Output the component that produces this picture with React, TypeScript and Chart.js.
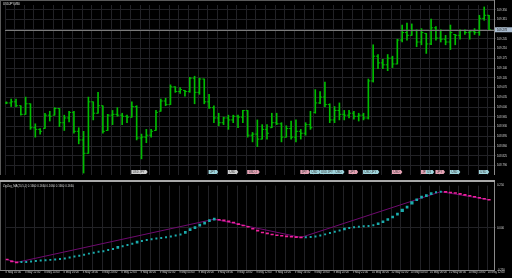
import React, { useEffect, useRef } from 'react';
import { Chart, registerables } from 'chart.js';

Chart.register(...registerables);

// ---------------- data ----------------
const symbolTitle = 'USDJPY,M30';
const indicatorTitle = 'ZigZag_MA(20,5,1) 0.1660 0.1660 0.1660 0.1660 0.1660';

const opens = [
  109.015, 109.015, 109.019, 109.005, 108.974, 109.012, 108.926, 108.920, 108.923, 108.971,
  108.971, 108.995, 108.944, 108.961, 108.981, 108.913, 108.882, 108.834, 109.019, 108.978,
  109.005, 108.916, 108.971, 108.974, 108.971, 108.967, 108.964, 109.002, 108.889, 108.892,
  108.899, 108.916, 108.985, 109.022, 109.009, 109.073, 109.056, 109.060, 109.056, 109.104,
  109.053, 109.101, 109.019, 108.998, 108.961, 108.944, 108.961, 108.954, 108.967, 108.964,
  108.988, 108.899, 108.903, 108.885, 108.920, 108.926, 108.944, 108.940, 108.892, 108.923,
  108.892, 108.913, 108.906, 108.937, 108.981, 109.015, 109.036, 109.009, 108.954, 108.988,
  108.974, 108.971, 108.978, 108.967, 108.971, 108.961, 109.094, 109.183, 109.159, 109.152,
  109.176, 109.155, 109.241, 109.268, 109.258, 109.275, 109.234, 109.265, 109.227, 109.285,
  109.248, 109.244, 109.234, 109.261, 109.258, 109.275, 109.268, 109.271, 109.268, 109.319,
  109.330,
];
const highs = [
  109.019, 109.029, 109.029, 109.005, 109.036, 109.012, 108.940, 108.923, 108.978, 108.985,
  108.998, 108.995, 108.971, 108.985, 108.985, 108.926, 108.913, 109.036, 109.019, 109.053,
  109.005, 108.974, 108.988, 108.998, 108.978, 108.971, 109.019, 109.005, 108.903, 108.920,
  108.920, 108.988, 109.029, 109.032, 109.080, 109.073, 109.070, 109.060, 109.107, 109.111,
  109.104, 109.101, 109.046, 109.005, 108.978, 108.964, 108.971, 108.971, 108.971, 108.988,
  108.988, 108.909, 108.954, 108.937, 108.937, 108.978, 108.978, 108.944, 108.933, 108.950,
  108.954, 108.920, 108.944, 108.985, 109.063, 109.056, 109.090, 109.012, 109.002, 109.015,
  108.988, 108.988, 108.985, 108.978, 108.978, 109.101, 109.224, 109.189, 109.172, 109.189,
  109.183, 109.244, 109.295, 109.302, 109.299, 109.278, 109.282, 109.265, 109.316, 109.289,
  109.278, 109.258, 109.295, 109.261, 109.278, 109.278, 109.275, 109.282, 109.330, 109.360,
  109.330,
];
const lows = [
  109.012, 109.002, 109.002, 108.971, 108.974, 108.920, 108.892, 108.903, 108.923, 108.950,
  108.971, 108.930, 108.916, 108.947, 108.906, 108.868, 108.763, 108.834, 108.954, 108.978,
  108.906, 108.916, 108.937, 108.967, 108.937, 108.944, 108.964, 108.882, 108.814, 108.872,
  108.892, 108.916, 108.985, 109.005, 109.009, 109.053, 109.049, 109.039, 109.053, 109.012,
  109.046, 109.012, 108.995, 108.944, 108.933, 108.937, 108.920, 108.944, 108.926, 108.944,
  108.892, 108.875, 108.858, 108.885, 108.885, 108.926, 108.937, 108.875, 108.892, 108.885,
  108.875, 108.885, 108.899, 108.920, 108.978, 109.012, 109.002, 108.944, 108.944, 108.954,
  108.954, 108.961, 108.957, 108.950, 108.954, 108.957, 109.090, 109.138, 109.138, 109.131,
  109.142, 109.155, 109.234, 109.241, 109.258, 109.217, 109.224, 109.193, 109.224, 109.241,
  109.234, 109.224, 109.207, 109.224, 109.244, 109.261, 109.244, 109.261, 109.258, 109.312,
  109.275,
];
const closes = [
  109.015, 109.019, 109.005, 108.974, 109.012, 108.926, 108.920, 108.913, 108.971, 108.967,
  108.995, 108.944, 108.961, 108.981, 108.913, 108.882, 108.834, 109.019, 108.978, 109.005,
  108.913, 108.971, 108.974, 108.971, 108.967, 108.964, 109.002, 108.889, 108.892, 108.899,
  108.913, 108.981, 109.022, 109.009, 109.073, 109.056, 109.063, 109.056, 109.104, 109.053,
  109.101, 109.019, 108.998, 108.961, 108.944, 108.961, 108.954, 108.967, 108.964, 108.988,
  108.899, 108.903, 108.885, 108.920, 108.906, 108.944, 108.940, 108.892, 108.923, 108.892,
  108.913, 108.906, 108.937, 108.926, 109.015, 109.036, 109.009, 108.954, 108.988, 108.974,
  108.971, 108.978, 108.967, 108.971, 108.961, 109.094, 109.183, 109.159, 109.152, 109.176,
  109.155, 109.241, 109.268, 109.258, 109.275, 109.234, 109.268, 109.227, 109.285, 109.248,
  109.244, 109.234, 109.268, 109.258, 109.275, 109.268, 109.271, 109.268, 109.319, 109.330,
  109.278,
];

const priceTicks = [
  108.79, 108.825, 108.86, 108.895, 108.93, 108.965, 109.0, 109.035, 109.07,
  109.105, 109.14, 109.175, 109.21, 109.245, 109.28, 109.315, 109.35,
];

const timeLabels = [
  '8 May 10:00', '8 May 12:00', '8 May 14:00', '8 May 16:00', '8 May 18:00', '8 May 20:00',
  '8 May 22:00', '9 May 00:00', '9 May 02:00', '9 May 04:00', '9 May 06:00', '9 May 08:00',
  '9 May 10:00', '9 May 12:00', '9 May 14:00', '9 May 16:00', '9 May 18:00', '9 May 20:00',
  '9 May 22:00', '10 May 00:00', '10 May 02:00', '10 May 04:00', '10 May 06:00', '10 May 08:00',
  '10 May 10:00', '10 May 12:00',
];

const maValues = [
  -0.188, -0.199, -0.205, -0.203, -0.202, -0.199, -0.197, -0.194, -0.192, -0.19,
  -0.188, -0.185, -0.182, -0.176, -0.17, -0.165, -0.159, -0.153, -0.148, -0.142,
  -0.139, -0.132, -0.126, -0.116, -0.109, -0.102, -0.094, -0.085, -0.078, -0.072,
  -0.068, -0.064, -0.06, -0.056, -0.051, -0.045, -0.04, -0.027, -0.011, 0.001,
  0.016, 0.028, 0.042, 0.051, 0.048, 0.044, 0.038, 0.031, 0.022, 0.014,
  0.006, -0.006, -0.017, -0.028, -0.033, -0.04, -0.044, -0.047, -0.051, -0.053,
  -0.055, -0.057, -0.056, -0.055, -0.051, -0.045, -0.039, -0.031, -0.024, -0.016,
  -0.007, -0.001, 0.003, 0.006, 0.009, 0.011, 0.015, 0.024, 0.036, 0.049,
  0.064, 0.081, 0.103, 0.122, 0.148, 0.166, 0.182, 0.191, 0.203, 0.21,
  0.214, 0.213, 0.209, 0.206, 0.201, 0.195, 0.19, 0.184, 0.178, 0.172,
  0.166,
];
const pivotBars = [1, 3, 44, 62, 91, 101];
const indicatorTicks = [-0.25, 0, 0.25];

const eventBars = [27, 43, 47, 51, 62, 64, 66, 69, 72, 75, 81, 87, 88, 90, 93, 99];
const eventKinds = ['w', 'c', 'w', 'p', 'p', 'c', 'c', 'c', 'p', 'c', 'p', 'p', 'c', 'p', 'c', 'c'];
const eventTexts = ['USD JPY', 'JPY', 'USD', 'USD J', 'JPY', 'USD', 'USD JPY', 'USD', 'JPY', 'USD JPY', 'USD', 'JP', 'US', 'JPY', 'USD', 'USD'];

// ---------------- style ----------------
const FONT = '"Liberation Sans", "DejaVu Sans", sans-serif';
const FS = 2.8;
const GREEN = '#00bc00';
const GRID = '#222226';
const TEXT = '#d4d4d4';
const CYAN = '#1aacac';
const MAGENTA = '#f0209c';
const PURPLE = '#700a70';
const X_MIN = 0.72;
const X_MAX = 102.03;
const GRID_SHIFT = 0.28;
const TICK_OFF = 0.2;
const TAG_COLORS: Record<string, string> = { w: '#cfcfcf', c: '#9fd4dc', p: '#e4a2b4' };

function xGridTicks() {
  const t: { value: number }[] = [];
  for (let b = 1; b <= closes.length; b += 2) t.push({ value: b - GRID_SHIFT });
  return t;
}

const rising = (i: number) => i > 0 && maValues[i] > maValues[i - 1];

const mainPlugin = {
  id: 'mainPanel',
  afterDraw(chart: any) {
    const { ctx, chartArea: a, scales } = chart;
    ctx.save();
    ctx.lineWidth = 1;
    ctx.strokeStyle = '#5a5a5a';
    ctx.beginPath();
    ctx.moveTo(0.5, 0); ctx.lineTo(0.5, a.bottom);
    ctx.moveTo(0, 0.5); ctx.lineTo(a.right, 0.5);
    ctx.stroke();
    ctx.strokeStyle = '#8a8a8a';
    ctx.beginPath();
    ctx.moveTo(Math.round(a.right) + 0.5, 0); ctx.lineTo(Math.round(a.right) + 0.5, a.bottom);
    ctx.stroke();

    // current price line + label
    const last = closes[closes.length - 1];
    const py = scales.y.getPixelForValue(last);
    ctx.strokeStyle = '#7a7a7a';
    ctx.beginPath();
    ctx.moveTo(a.left, Math.round(py) + 0.5); ctx.lineTo(a.right, Math.round(py) + 0.5);
    ctx.stroke();
    ctx.fillStyle = '#a9bccf';
    ctx.fillRect(a.right + 1, py - 2.5, 17, 5);
    ctx.fillStyle = '#101010';
    ctx.font = `${FS}px ${FONT}`;
    ctx.textBaseline = 'middle';
    ctx.textAlign = 'left';
    ctx.fillText(last.toFixed(3), a.right + 3, py);

    // title
    ctx.fillStyle = '#e8e8e8';
    ctx.fillText(symbolTitle, 3, 4);

    // event tags
    const xs = scales.x;
    eventBars.forEach((b, i) => {
      const x = xs.getPixelForValue(b) - 0.5;
      const txt = eventTexts[i];
      const w = ctx.measureText(txt).width + 3;
      const top = a.bottom - 5;
      ctx.fillStyle = TAG_COLORS[eventKinds[i]];
      ctx.beginPath();
      ctx.moveTo(x, top);
      ctx.lineTo(x + w, top);
      ctx.lineTo(x + w + 1.5, top + 2);
      ctx.lineTo(x + w, top + 4);
      ctx.lineTo(x, top + 4);
      ctx.closePath();
      ctx.fill();
      ctx.fillStyle = '#3a3a3a';
      ctx.fillText(txt, x + 1.5, top + 2);
    });
    ctx.restore();
  },
};

const indPlugin = {
  id: 'indPanel',
  afterDraw(chart: any) {
    const { ctx, chartArea: a } = chart;
    ctx.save();
    ctx.fillStyle = '#a8a8a8';
    ctx.fillRect(0, 0, Math.round(a.right) + 1, 2);
    ctx.lineWidth = 1;
    ctx.strokeStyle = '#5a5a5a';
    ctx.beginPath();
    ctx.moveTo(0.5, 2); ctx.lineTo(0.5, a.bottom);
    ctx.stroke();
    ctx.strokeStyle = '#8a8a8a';
    ctx.beginPath();
    ctx.moveTo(Math.round(a.right) + 0.5, 2); ctx.lineTo(Math.round(a.right) + 0.5, Math.round(a.bottom) + 1);
    ctx.moveTo(0, Math.round(a.bottom) + 0.5); ctx.lineTo(Math.round(a.right) + 1, Math.round(a.bottom) + 0.5);
    ctx.stroke();
    ctx.fillStyle = '#d8d8d8';
    ctx.font = `${FS}px ${FONT}`;
    ctx.textBaseline = 'middle';
    ctx.textAlign = 'left';
    ctx.fillText(indicatorTitle, 3, 6);
    ctx.restore();
  },
};

function xScale(showLabels: boolean) {
  return {
    type: 'linear',
    min: X_MIN,
    max: X_MAX,
    offset: false,
    afterBuildTicks: (s: any) => { s.ticks = xGridTicks(); },
    afterFit: (s: any) => { s.height = showLabels ? 8 : 0; },
    grid: { color: GRID, drawTicks: false, offset: false },
    border: { display: false },
    ticks: {
      display: showLabels,
      autoSkip: false,
      maxRotation: 0,
      minRotation: 0,
      align: 'start',
      padding: 1,
      color: TEXT,
      font: { family: FONT, size: FS },
      callback: (_v: any, i: number) => (i % 2 === 0 ? timeLabels[i / 2] ?? '' : ''),
    },
  };
}

export default function App() {
  const mainRef = useRef<HTMLCanvasElement>(null);
  const indRef = useRef<HTMLCanvasElement>(null);

  useEffect(() => {
    const main = new Chart(mainRef.current as HTMLCanvasElement, {
      type: 'bar',
      data: {
        datasets: [
          {
            type: 'bar',
            data: highs.map((h, i) => ({ x: i + 1, y: [lows[i], h] })),
            backgroundColor: GREEN,
            borderWidth: 0,
            barThickness: 1,
            grouped: false,
          } as any,
          {
            type: 'scatter',
            data: opens.map((o, i) => ({ x: i + 1 - TICK_OFF, y: o })),
            pointStyle: 'line',
            pointRadius: 1,
            pointBorderWidth: 1,
            pointBorderColor: GREEN,
            showLine: false,
          } as any,
          {
            type: 'scatter',
            data: closes.map((c, i) => ({ x: i + 1 + TICK_OFF, y: c })),
            pointStyle: 'line',
            pointRadius: 1,
            pointBorderWidth: 1,
            pointBorderColor: GREEN,
            showLine: false,
          } as any,
        ],
      },
      options: {
        responsive: false,
        animation: false,
        devicePixelRatio: 1,
        events: [],
        layout: { padding: { left: 1, top: 1, right: 0, bottom: 0 } },
        plugins: { legend: { display: false }, tooltip: { enabled: false } },
        scales: {
          x: xScale(false) as any,
          y: {
            type: 'linear',
            position: 'right',
            min: 108.756,
            max: 109.367,
            afterBuildTicks: (s: any) => { s.ticks = priceTicks.map((v) => ({ value: v })); },
            afterFit: (s: any) => { s.width = 18; },
            grid: { color: GRID, drawTicks: true, tickLength: 2 },
            border: { display: false },
            ticks: {
              autoSkip: false,
              padding: 1,
              color: TEXT,
              font: { family: FONT, size: FS },
              callback: (v: any) => Number(v).toFixed(3),
            },
          } as any,
        },
      },
      plugins: [mainPlugin],
    } as any);

    const ind = new Chart(indRef.current as HTMLCanvasElement, {
      type: 'line',
      data: {
        datasets: [
          {
            data: maValues.map((v, i) => ({ x: i + 1, y: v })),
            showLine: false,
            order: 0,
            pointStyle: (c: any) => (rising(c.dataIndex) ? 'rect' : 'line'),
            pointRadius: (c: any) => {
              const i = c.dataIndex;
              if (!rising(i)) return 1.6;
              const d = maValues[i] - maValues[i - 1];
              return d > 0.02 ? 2.3 : d > 0.008 ? 1.9 : 1.4;
            },
            pointBackgroundColor: (c: any) => (rising(c.dataIndex) ? CYAN : MAGENTA),
            pointBorderColor: (c: any) => (rising(c.dataIndex) ? CYAN : MAGENTA),
            pointBorderWidth: (c: any) => (rising(c.dataIndex) ? 0 : 1.6),
          } as any,
          {
            data: pivotBars.map((b) => ({ x: b, y: maValues[b - 1] })),
            borderColor: PURPLE,
            borderWidth: 1,
            pointRadius: 0,
            tension: 0,
            order: 1,
          } as any,
        ],
      },
      options: {
        responsive: false,
        animation: false,
        devicePixelRatio: 1,
        events: [],
        layout: { padding: { left: 1, top: 3, right: 0, bottom: 0 } },
        plugins: { legend: { display: false }, tooltip: { enabled: false } },
        scales: {
          x: xScale(true) as any,
          y: {
            type: 'linear',
            position: 'right',
            min: -0.25,
            max: 0.25,
            afterBuildTicks: (s: any) => { s.ticks = indicatorTicks.map((v) => ({ value: v })); },
            afterFit: (s: any) => { s.width = 18; },
            grid: {
              color: (c: any) => (c.tick && c.tick.value === 0 ? GRID : 'rgba(0,0,0,0)'),
              drawTicks: true,
              tickLength: 2,
            },
            border: { display: false },
            ticks: {
              autoSkip: false,
              padding: 1,
              color: TEXT,
              font: { family: FONT, size: FS },
              callback: (v: any) => Number(v).toFixed(3),
            },
          } as any,
        },
      },
      plugins: [indPlugin],
    } as any);

    return () => {
      main.destroy();
      ind.destroy();
    };
  }, []);

  return (
    <div style={{ position: 'fixed', left: 0, top: 0, width: 512, height: 278, background: '#000', overflow: 'hidden' }}>
      <canvas ref={mainRef} width={512} height={180} style={{ position: 'absolute', left: 0, top: 0, width: 512, height: 180 }} />
      <canvas ref={indRef} width={512} height={98} style={{ position: 'absolute', left: 0, top: 180, width: 512, height: 98 }} />
    </div>
  );
}
